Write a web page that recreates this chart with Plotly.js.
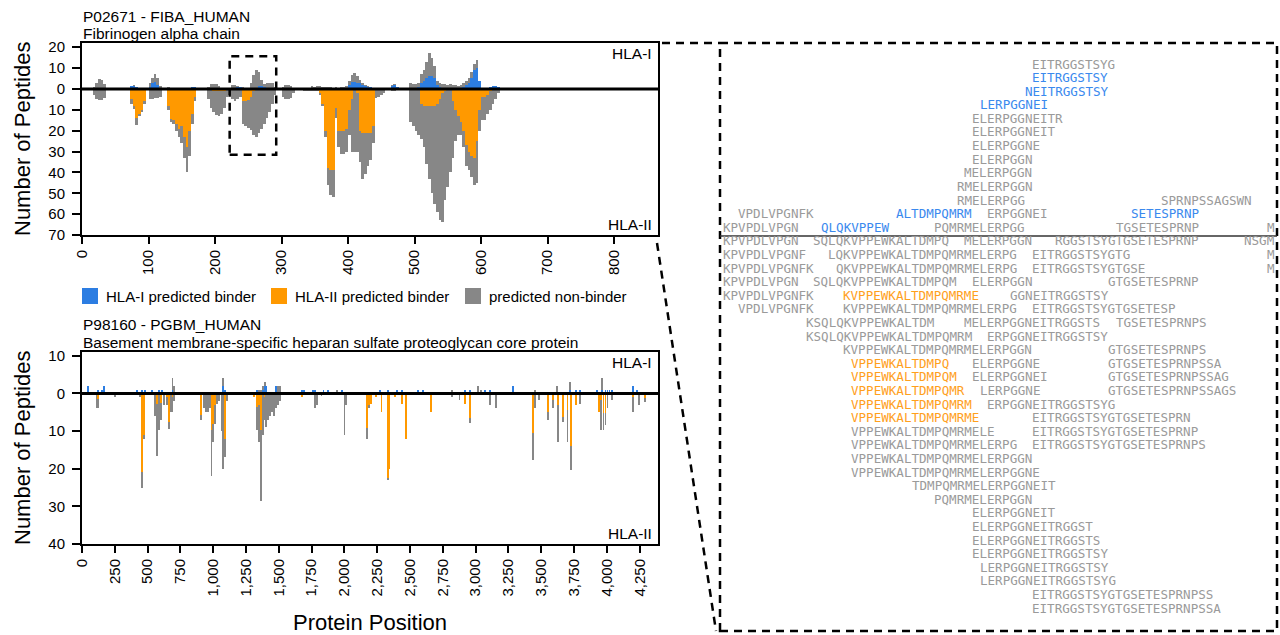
<!DOCTYPE html>
<html><head><meta charset="utf-8">
<script src="https://cdn.plot.ly/plotly-3.0.1.min.js"></script>
<style>html,body{margin:0;padding:0;background:#fff}#chart{width:1280px;height:635px}</style>
</head><body><div id="chart"></div>
<script>
// ---------------- DATA ----------------
// FIBA_HUMAN (P02671): peptide counts per 4-residue bin (bin start residue)
const fibaBin = 4;
const fibaStart = [16,20,24,28,32, 72,76,80,84,88,92, 100,104,108,112,116,
  128,132,136,140,144,148,152,156,160,164,168, 188,192,196,200,204,208,212,216,
  220,224,228,232,236,240,244,248,252,256,260,264,268,272,276,280,284,288,
  300,304,308,312,316, 332,336,340,344,348,352,356,
  360,364,368,372,376,380,384,388,392,396,400,404,408,412,416,420,424,428,432,436,440,444,448,452,
  464,468,472,
  492,496,500,504,508,512,516,520,524,528,532,536,540,544,548,552,556,560,564,568,572,576,580,584,588,592,596,600,604,608,612,616,620,624];
const fibaIBind = [0,0,0,0,0, 1.5,1.5,1,0,0,0, 1,3,3.5,2,0,
  0,0,0,0,0,0,0,0,0,1,1, 0,0,0,0,0,0,0,0.5,
  0,0,0,1,1,0.5,0,0.5,0,0.5,0,1.5,1.5,1,0,0,0,0,
  0,0,0,0,0, 0,0,0,0,0,0.5,0,
  0.5,0,0.5,0,0.5,0,0,0,0,0.5, 2,3.5,3.5,3,3,2,1.5,1,1,0.5, 0,0,0,0,
  1.5,2,1,
  0,0,0,1, 3,4,5,6,6,5,2,1, 0,0,0,0,0,0,0,0, 1,2,3,5,9,10,4, 0,0,0, 1,1.5,1.5,1];
const fibaINon = [1,3,4.7,4.5,2.5, 0,0.5,0,0,0,0, 2,2,3.5,3,1.5,
  1,0,0,0,0,0,0,0,0,0,0, 1,2.5,2.5,2.5,1.5,0.5,0,0,
  0,2,2,0.5,0,0.5,0,0,3,6,9,6.5,3,1.5,3,3,3,1,
  1,2,2,1.5,0, 0,0,0.5,1.5,1,1,1.5,
  0.5,1,0.5,1,0,1,0.5,1,1,1, 2,3,4,3,1.5,1,0.5,0.5,0,0, 0,0,0,0,
  0.5,0.5,0,
  3,2.5,2.5,2, 4,5,8,11,9,6,2,2, 2.5,2.5,2,2.5,2,2,1.5,2, 2,2,2,3,3,4,0, 0,0,0, 0,0,0,0];
const fibaIIBind = [0,0,0,0,0, 5,8,14,12,10,6, 0,0,0,0,0,
  8,14.5,15,17,19,18,23,28,20,12,4, 0,0,1,1,1,1,1,0,
  0,0,0,0,0,6,6,5.5,4,1,0,0,0,0,0,0,0,0,
  0,0,0,0,0, 0,0,0,0,0,0,2,
  7,20,38,39,39,9,20,20,20,19, 10,5,0,2,20,21,21,21,21,18, 0,0,0,0,
  0,0,0,
  0,0,0,0, 7,8,8,8,8,8,7,5, 2,1,0,0,6,10,13,16, 20,27,30,32,33,25,10, 4,4,3, 1,0,0,0];
const fibaIINon = [3,5,5.3,5.3,4.5, 2,1.5,3.5,1,1,1, 5,5,4.5,4.5,4,
  2,1.5,2,3,4,8,10,12,12,5,2, 5,9,10,11.5,12,11,8,4,
  3,5,6,5,4,11,12,13,15.5,21,23,21,19,17,14,11,7,3,
  4,5,5,4.5,2, 1,1,1,1,1,1,1,
  1,3,8,12,13,5,8,11,11,11, 12,25,30,28,15,22,20,16,13,8, 4.5,4,3,2,
  1,1,0.5,
  16,18,20,22, 17,20,28,35,42,47,52,58, 62,52,47,40,27,15,9,6, 8,10,9,10,13,20,10, 11,11,9, 9,7,5,2];

// PGBM_HUMAN (P98160): peptide counts at residue positions
const pgbmBin = 14;
const pgbmPos = [43,110,125,150,170,250,419,445,460,474,483,533,557,571,587,603,612,622,650,662,676,690,702,
  910,930,945,960,975,987,1000,1013,1030,1045,1063,1076,1090,1102,
  1310,1336,1352,1367,1380,1392,1405,1420,1435,1450,1465,1480,1495,1510,
  1676,1690,1760,1775,1790,1825,1841,1875,1943,1981,2000,2012,
  2175,2190,2205,2240,2271,2282,2330,2343,2385,2398,2436,2470,2563,2601,2657,
  2817,2877,2919,2957,3020,3040,3071,3109,3157,3287,
  3440,3455,3486,3550,3590,3617,3628,3664,3700,3719,3728,3763,3796,
  3922,3939,3955,3965,3975,3990,4005,4020,4037,4202,4227,4248,4290];
const pgbmIBind = [2,0,1,1,2,0,1,0,1,0,1,1,0,0,1,0,1,0,0,0,0,1,0,
  0,0,0,0,0,0,0,0,0,0,0,2,1,0,
  0,1,0,0,1,2,2,0,0,0,0,2,0,0,
  1,1,1,1,0,0,1,1,0,1,0,0,
  0,0,0,0,1,0,1,0,0,1,1,0,1,1,0,
  0,0,1,1,0,0,1,1,0,2,
  0,0,0,0,0,0,0,0,0,1,0,1,1,
  1,0,0,1,0,1,1,1,1,2,1,0,0];
const pgbmINon = [0,0,0,0,0,0,0,0,0,0,0,0,0,0,0,0,0,0,0,0,0,3,2,
  0,0,0,0,0,0,0,0,0,0,0,2,0,0,
  0,0,1,1,1,1,0,0,0,0,0,0,2,2,
  0,0,0,0,0,0,0,0,1,0,0,0,
  0,0,0,0,0,0,0,0,0,0,0,0,0,0,0,
  1,0,0,0,2,1,0,0,0,0,
  0,1,0,0,0,2,0,0,0,2,0,0,0,
  0,0,0,3,0,0,0,0,0,0,0,0,0];
const pgbmIIBind = [0,0,1.6,0,0,0,0,0,21,11,0,0,0,2.7,0,2.5,0,0,1,7.5,0,1,0,
  5.8,0,0,0,0,9.7,8,3,0,0,0,0,12,0,
  1,3.5,3,9.7,0,1,0,0,0,0,0,0,0,0,
  1,0,0,0,0,0,0,0,0,0,0,0,
  9.3,3,2.7,1,0,5,22.6,20,1,0,2.7,12,0,0,5,
  0,0,2.7,6.6,0,0,0,0,0,0,
  10.6,0,0,5,1.8,0,3,6.2,4.4,0,14,3,0,
  0,5,1.8,0,5.3,5.3,0,0,0,1,0,0,1.3];
const pgbmIINon = [0,4,2.4,0,0,1,0,1,4,1,0,0,6,14,9.7,4.5,0,3,2,2,5,4,2,
  1.2,4,5,5,4,12.3,4.8,5,2.7,2,10,20,4.8,2,
  0,6.2,10,19,11,6,9,7,6,5,6,4,3,2,
  0,0,0,4,3,0.7,0,0,0,0,11,3,
  2.7,1,0,0,0,0,0.4,0,0,0,0,0,0,0,0,
  1,1.8,0,1.2,0,0,0,3,4,0,
  7,4,1.8,2,2.2,0,9.8,1.3,8.6,0,6.4,0,2.7,
  0,0,7.9,0,4.4,3,4,0,1.8,4,0,3,1];

const fibaTicks = [0,100,200,300,400,500,600,700,800];
const pgbmTicks = [0,250,500,750,1000,1250,1500,1750,2000,2250,2500,2750,3000,3250,3500,3750,4000,4250];
const fibaYTicks = [20,10,0,-10,-20,-30,-40,-50,-60,-70];
const pgbmYTicks = [10,0,-10,-20,-30,-40];

const legendLabels = ['HLA-I predicted binder','HLA-II predicted binder','predicted non-binder'];

// Peptide alignment (rows, start offset within window, sequence, class)
const pepRow = [0,1,2,3,4,5,6,7,8,9,10,10,11,11,11,11,12,12,12,12,12,
  13,13,13,13,13,14,14,14,14,15,15,15,15,16,16,16,16,17,17,17,18,18,18,
  19,19,19,20,20,21,21,22,22,22,23,23,23,24,24,24,25,25,26,26,27,27,28,28,
  29,30,31,32,33,34,35,36,37,38,39,40];
const pepStart = [41,41,40,34,33,33,33,33,32,31,31,58,2,23,35,54,0,13,28,52,72,
  0,12,32,44,69,0,14,41,72,0,15,41,72,0,12,33,51,0,16,38,2,16,41,
  11,32,52,11,35,16,51,17,33,51,17,33,51,17,34,51,17,35,17,41,17,41,17,41,
  17,17,25,28,33,33,33,33,34,34,41,41];
const pepSeq = ['EITRGGSTSYG','EITRGGSTSY','NEITRGGSTSY','LERPGGNEI','ELERPGGNEITR','ELERPGGNEIT','ELERPGGNE','ELERPGGN','MELERPGGN','RMELERPGGN',
  'RMELERPGG','SPRNPSSAGSWN',
  'VPDLVPGNFK','ALTDMPQMRM','ERPGGNEI','SETESPRNP',
  'KPVPDLVPGN','QLQKVPPEW','PQMRMELERPGG','TGSETESPRNP','M',
  'KPVPDLVPGN','SQLQKVPPEWKALTDMPQ','MELERPGGN','RGGSTSYGTGSETESPRNP','NSGM',
  'KPVPDLVPGNF','LQKVPPEWKALTDMPQMRMELERPG','EITRGGSTSYGTG','M',
  'KPVPDLVPGNFK','QKVPPEWKALTDMPQMRMELERPG','EITRGGSTSYGTGSE','M',
  'KPVPDLVPGN','SQLQKVPPEWKALTDMPQM','ELERPGGN','GTGSETESPRNP',
  'KPVPDLVPGNFK','KVPPEWKALTDMPQMRME','GGNEITRGGSTSY',
  'VPDLVPGNFK','KVPPEWKALTDMPQMRMELERPG','EITRGGSTSYGTGSETESP',
  'KSQLQKVPPEWKALTDM','MELERPGGNEITRGGSTS','TGSETESPRNPS',
  'KSQLQKVPPEWKALTDMPQMRM','ERPGGNEITRGGSTSY',
  'KVPPEWKALTDMPQMRMELERPGGN','GTGSETESPRNPS',
  'VPPEWKALTDMPQ','ELERPGGNE','GTGSETESPRNPSSA',
  'VPPEWKALTDMPQM','ELERPGGNEI','GTGSETESPRNPSSAG',
  'VPPEWKALTDMPQMR','LERPGGNE','GTGSETESPRNPSSAGS',
  'VPPEWKALTDMPQMRM','ERPGGNEITRGGSTSYG',
  'VPPEWKALTDMPQMRME','EITRGGSTSYGTGSETESPRN',
  'VPPEWKALTDMPQMRMELE','EITRGGSTSYGTGSETESPRNP',
  'VPPEWKALTDMPQMRMELERPG','EITRGGSTSYGTGSETESPRNPS',
  'VPPEWKALTDMPQMRMELERPGGN','VPPEWKALTDMPQMRMELERPGGNE','TDMPQMRMELERPGGNEIT','PQMRMELERPGGN',
  'ELERPGGNEIT','ELERPGGNEITRGGST','ELERPGGNEITRGGSTS','ELERPGGNEITRGGSTSY','LERPGGNEITRGGSTSY','LERPGGNEITRGGSTSYG',
  'EITRGGSTSYGTGSETESPRNPSS','EITRGGSTSYGTGSETESPRNPSSA'];
const pepClass = ['n','I','I','I','n','n','n','n','n','n','n','n',
  'n','I','n','I',
  'n','I','n','n','n',
  'n','n','n','n','n',
  'n','n','n','n',
  'n','n','n','n',
  'n','n','n','n',
  'n','II','n',
  'n','n','n',
  'n','n','n',
  'n','n',
  'n','n',
  'II','n','n',
  'II','n','n',
  'II','n','n',
  'II','n',
  'II','n',
  'n','n',
  'n','n',
  'n','n','n','n',
  'n','n','n','n','n','n',
  'n','n'];

// ---------------- STYLE ----------------
const W = 1280, H = 635;
const px = x => x / W, py = y => 1 - y / H;
const C_BLUE = '#2c7de2', C_ORANGE = '#ff9900', C_GRAY = '#878787';
const TXT = {n:'#9a9a9a', I:'#3a89ee', II:'#ffa01c'};
const FONT = 'Arial, "Liberation Sans", Helvetica, sans-serif';

function bar(x, y, color, xa, ya, width) {
  return {type:'bar', x:x, y:y, width:width, marker:{color:color, line:{width:0}},
          xaxis:xa, yaxis:ya, hoverinfo:'skip', showlegend:false};
}
const fx = fibaStart.map(s => s + fibaBin/2);
const neg = a => a.map(v => -v);
const traces = [
  bar(fx, fibaIBind, C_BLUE, 'x', 'y', fibaBin),
  bar(fx, neg(fibaIIBind), C_ORANGE, 'x', 'y', fibaBin),
  bar(fx, fibaINon, C_GRAY, 'x', 'y', fibaBin),
  bar(fx, neg(fibaIINon), C_GRAY, 'x', 'y', fibaBin),
  bar(pgbmPos, pgbmIBind, C_BLUE, 'x2', 'y2', pgbmBin),
  bar(pgbmPos, neg(pgbmIIBind), C_ORANGE, 'x2', 'y2', pgbmBin),
  bar(pgbmPos, pgbmINon, C_GRAY, 'x2', 'y2', pgbmBin),
  bar(pgbmPos, neg(pgbmIINon), C_GRAY, 'x2', 'y2', pgbmBin)
];

const fmt = v => Math.abs(v).toLocaleString('en-US');
function xAxis(yref, range, ticks) {
  return {domain:[px(82), px(658)], anchor:yref, range:range, showline:true, mirror:true,
    linecolor:'black', linewidth:2, ticks:'outside', ticklen:7, tickwidth:2, tickcolor:'black',
    tickvals:ticks, ticktext:ticks.map(fmt), tickangle:-90, showgrid:false, zeroline:false,
    tickfont:{family:FONT, size:15, color:'black'}, fixedrange:true};
}
function yAxis(xref, dom, range, ticks) {
  return {domain:dom, anchor:xref, range:range, showline:true, mirror:true,
    linecolor:'black', linewidth:2, ticks:'outside', ticklen:8, tickwidth:2, tickcolor:'black',
    tickvals:ticks, ticktext:ticks.map(fmt), showgrid:false, zeroline:false, ticklabelstandoff:4,
    tickfont:{family:FONT, size:15, color:'black'}, fixedrange:true};
}

const ann = [];
function txt(x, y, text, opts) {
  ann.push(Object.assign({xref:'paper', yref:'paper', x:px(x), y:py(y), text:text, showarrow:false,
    xanchor:'left', yanchor:'middle', borderpad:0, font:{family:FONT, size:15.5, color:'black'}}, opts || {}));
}
txt(82, 16, 'P02671 - FIBA_HUMAN');
txt(82, 33, 'Fibrinogen alpha chain');
txt(82, 324, 'P98160 - PGBM_HUMAN');
txt(82, 342, 'Basement membrane-specific heparan sulfate proteoglycan core protein');
txt(22, 139, 'Number of Peptides', {xanchor:'center', textangle:-90, font:{family:FONT, size:22, color:'black'}});
txt(22, 448, 'Number of Peptides', {xanchor:'center', textangle:-90, font:{family:FONT, size:22, color:'black'}});
txt(370, 622, 'Protein Position', {xanchor:'center', font:{family:FONT, size:22, color:'black'}});
// HLA labels inside panels
[['x','y'],['x2','y2']].forEach(([xa, ya]) => {
  ann.push({xref:xa+' domain', yref:ya+' domain', x:1, y:1, xshift:-5, yshift:-1, xanchor:'right', yanchor:'top',
    text:'HLA-I', showarrow:false, borderpad:0, font:{family:FONT, size:15.5, color:'black'}});
  ann.push({xref:xa+' domain', yref:ya+' domain', x:1, y:0, xshift:-5, yshift:1, xanchor:'right', yanchor:'bottom',
    text:'HLA-II', showarrow:false, borderpad:0, font:{family:FONT, size:15.5, color:'black'}});
});
// legend
const legX = [82, 271, 465], legCol = [C_BLUE, C_ORANGE, C_GRAY];
const shapes = [];
legendLabels.forEach((l, i) => {
  shapes.push({type:'rect', xref:'paper', yref:'paper', x0:px(legX[i]), x1:px(legX[i]+16), y0:py(304), y1:py(288),
    fillcolor:legCol[i], line:{width:0}});
  txt(legX[i] + 23, 296, l, {font:{family:FONT, size:15, color:'black'}});
});
// zero lines
shapes.push({type:'line', xref:'x domain', yref:'y', x0:0, x1:1, y0:0, y1:0, line:{color:'black', width:3}, layer:'above'});
shapes.push({type:'line', xref:'x2 domain', yref:'y2', x0:0, x1:1, y0:0, y1:0, line:{color:'black', width:3}, layer:'above'});
// highlighted region in FIBA
shapes.push({type:'rect', xref:'x', yref:'y', x0:222, x1:292, y0:-31.6, y1:15.6, line:{color:'black', width:2.5, dash:'8px,6px'}});
// zoom box + connectors
const dash = {color:'black', width:2.5, dash:'8px,6px'};
shapes.push({type:'rect', xref:'paper', yref:'paper', x0:px(720), x1:px(1277), y0:py(631), y1:py(43), line:dash});
shapes.push({type:'line', xref:'paper', yref:'paper', x0:px(662), x1:px(720), y0:py(43), y1:py(43), line:dash});
shapes.push({type:'line', xref:'paper', yref:'paper', x0:px(657), x1:px(716), y0:py(243), y1:py(631), line:dash});
// separator in alignment
shapes.push({type:'line', xref:'paper', yref:'paper', x0:px(720), x1:px(1277), y0:py(236), y1:py(236), line:{color:'#333', width:1.5}});

// peptide alignment text
const CW = 7.56, X0 = 722.5, Y0 = 64, RH = 13.6;
pepSeq.forEach((s, i) => {
  ann.push({xref:'paper', yref:'paper', x:px(X0 + pepStart[i]*CW), y:py(Y0 + pepRow[i]*RH), text:s,
    showarrow:false, xanchor:'left', yanchor:'middle', borderpad:0, borderwidth:0,
    font:{family:'"DejaVu Sans Mono", monospace', size:CW/0.602, color:TXT[pepClass[i]]}});
});

const layout = {
  width:W, height:H, margin:{l:0, r:0, t:0, b:0}, paper_bgcolor:'white', plot_bgcolor:'white',
  showlegend:false, barmode:'relative', bargap:0, font:{family:FONT, color:'black'},
  xaxis:xAxis('y', [0, 866], fibaTicks),
  yaxis:yAxis('x', [py(235), py(43)], [-70, 22], fibaYTicks),
  xaxis2:xAxis('y2', [0, 4390], pgbmTicks),
  yaxis2:yAxis('x2', [py(544), py(352)], [-40, 11], pgbmYTicks),
  annotations:ann, shapes:shapes
};
Plotly.newPlot('chart', traces, layout, {staticPlot:true, displayModeBar:false});
</script></body></html>
